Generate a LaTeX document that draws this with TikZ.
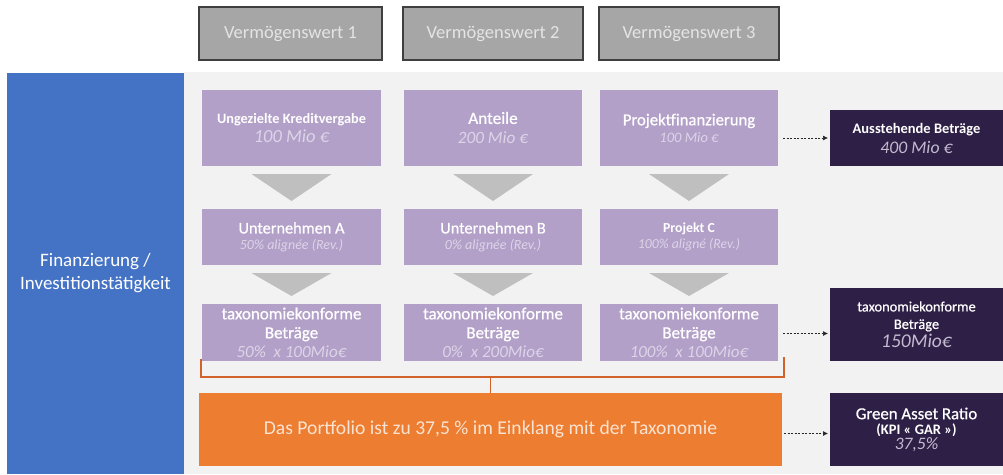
\documentclass[tikz,border=0pt]{standalone}
\usepackage{fontspec}
\setmainfont{Carlito}
\newfontfamily\semib[FakeBold=0.7]{Carlito}
\usetikzlibrary{calc,arrows.meta}
\definecolor{bluep}{HTML}{4472C4}
\definecolor{panelgray}{HTML}{F2F2F2}
\definecolor{vgray}{HTML}{A6A6A6}
\definecolor{vborder}{HTML}{3F3F3F}
\definecolor{vtext}{HTML}{E4E4E4}
\definecolor{purp}{HTML}{B2A0C8}
\definecolor{purptext}{HTML}{DDD4E8}
\definecolor{trigray}{HTML}{BFBFBF}
\definecolor{darkp}{HTML}{2D1F45}
\definecolor{darktext}{HTML}{C3BBD0}
\definecolor{orangep}{HTML}{ED7D31}
\definecolor{orangetext}{HTML}{FBE3D2}
\definecolor{bracketc}{HTML}{D0622A}
\newcommand{\fs}[2]{\fontsize{#1}{#2}\selectfont}
\begin{document}
\begin{tikzpicture}[x=1pt,y=-1pt,
  box/.style={rectangle, anchor=north west, inner sep=0pt, outer sep=0pt, align=center},
  vbox/.style={box, fill=vgray, draw=vborder, line width=1.4pt, text=vtext, minimum height=53},
  pbox/.style={box, fill=purp, text=white},
  dbox/.style={box, fill=darkp, text=white, minimum width=173},
  tri/.style={fill=trigray},
  dasharrow/.style={draw=black!85, line width=0.7pt, dash pattern=on 2pt off 1.5pt, -{Latex[length=5pt,width=5pt]}},
  bracket/.style={draw=bracketc, line width=1.6pt}
]
\useasboundingbox (0,0) rectangle (1003,474);
\fill[white] (0,0) rectangle (1003,474);
\fill[panelgray] (184,72) rectangle (1003,474);

% left blue panel
\node[box, fill=bluep, minimum width=177, minimum height=401, text=white, font=\fs{19}{23}] (fin) at (7,73)
  {Finanzierung /\\Investitionstätigkeit};

% top gray boxes
\node[vbox, minimum width=183, font=\fs{18.5}{22}] (v1) at (199,7) {Vermögenswert 1};
\node[vbox, minimum width=180, font=\fs{18.5}{22}] (v2) at (403,7) {Vermögenswert 2};
\node[vbox, minimum width=180, font=\fs{18.5}{22}] (v3) at (599,7) {Vermögenswert 3};

% row 1
\node[pbox, minimum width=179, minimum height=76, font=\fs{14}{19}] (p1) at (202,90)
  {{\bfseries\fs{14.3}{19}Ungezielte Kreditvergabe}\\{\itshape\color{purptext}\fs{18.5}{19}100 Mio €}};
\node[pbox, minimum width=178, minimum height=76, font=\fs{17}{20}] (p2) at (404,90)
  {{\semib\fs{17.2}{20}Anteile}\\{\itshape\color{purptext}\fs{17.2}{20}200 Mio €}};
\node[pbox, minimum width=178, minimum height=76, font=\fs{15}{17}] (p3) at (600,90)
  {{\semib\fs{16.7}{17}Projektfinanzierung}\\{\itshape\color{purptext}\fs{14.5}{17}100 Mio €}};

% row 2
\node[pbox, minimum width=179, minimum height=56, font=\fs{14}{16}] (u1) at (202,209)
  {{\semib\fs{16.3}{16}Unternehmen A}\\{\itshape\color{purptext}\fs{14}{16}50\% alignée (Rev.)}};
\node[pbox, minimum width=178, minimum height=56, font=\fs{14}{16}] (u2) at (404,209)
  {{\semib\fs{16.3}{16}Unternehmen B}\\{\itshape\color{purptext}\fs{14}{16}0\% alignée (Rev.)}};
\node[pbox, minimum width=178, minimum height=56, font=\fs{14}{16}] (u3) at (600,209)
  {{\bfseries\fs{13.8}{16}Projekt C}\\{\itshape\color{purptext}\fs{13.8}{16}100\% aligné (Rev.)}};

% row 3
\node[pbox, minimum width=179, minimum height=57, font=\fs{17}{19}] (r1) at (202,304)
  {{\semib taxonomiekonforme}\\{\semib Beträge}\\{\itshape\color{purptext}50\%~ x 100Mio€}};
\node[pbox, minimum width=178, minimum height=57, font=\fs{17}{19}] (r2) at (404,304)
  {{\semib taxonomiekonforme}\\{\semib Beträge}\\{\itshape\color{purptext}0\%~ x 200Mio€}};
\node[pbox, minimum width=178, minimum height=57, font=\fs{17}{19}] (r3) at (600,304)
  {{\semib taxonomiekonforme}\\{\semib Beträge}\\{\itshape\color{purptext}100\%~ x 100Mio€}};

% triangles
\foreach \a/\b in {p1/u1,p2/u2,p3/u3,u1/r1,u2/r2,u3/r3}{
  \fill[tri] ($(\a.south)+(-40,8)$) -- ($(\a.south)+(40,8)$) -- ($(\b.north)+(0,-8)$) -- cycle;
}

% orange box
\node[box, fill=orangep, text=orangetext, minimum width=583, minimum height=73, font=\fs{19.6}{22}] (o) at (199,393)
  {Das Portfolio ist zu 37,5 \% im Einklang mit der Taxonomie};

% bracket
\draw[bracket] ($(r1.south west)+(-1,-2)$) -- ($(r1.south west)+(-1,16)$) -- ($(r3.south east)+(6,16)$) -- ($(r3.south east)+(6,-4)$);
\draw[bracket] (o.north) -- ++(0,-16);

% dark boxes
\node[dbox, minimum height=56, font=\fs{15}{20}] (d1) at (830,110)
  {{\bfseries\fs{14.5}{20}Ausstehende Beträge}\\{\itshape\color{darktext}\fs{17.7}{20}400 Mio €}};
\node[dbox, minimum height=73, font=\fs{14.4}{17.5}] (d2) at (830,288)
  {{\semib taxonomiekonforme}\\{\semib Beträge}\\[1pt]{\itshape\color{darktext}\fs{19.5}{18}150Mio€}};
\node[dbox, minimum height=73, font=\fs{15}{15}] (d3) at (830,393)
  {{\semib\fs{16.8}{15}Green Asset Ratio}\\{\bfseries\fs{14.5}{15}(KPI « GAR »)}\\{\itshape\color{darktext}\fs{17.5}{15}37,5\%}};

% dashed arrows
\draw[dasharrow, shorten <=5pt, shorten >=2pt] (p3.east |- d1.west) -- (d1.west);
\draw[dasharrow, shorten <=5pt, shorten >=2pt] ([yshift=-1pt]r3.east) -- ([yshift=-1pt]r3.east -| d2.west);
\draw[dasharrow, shorten <=2pt, shorten >=2pt] ([yshift=-4pt]o.east) -- ([yshift=-4pt]o.east -| d3.west);
\end{tikzpicture}
\end{document}
